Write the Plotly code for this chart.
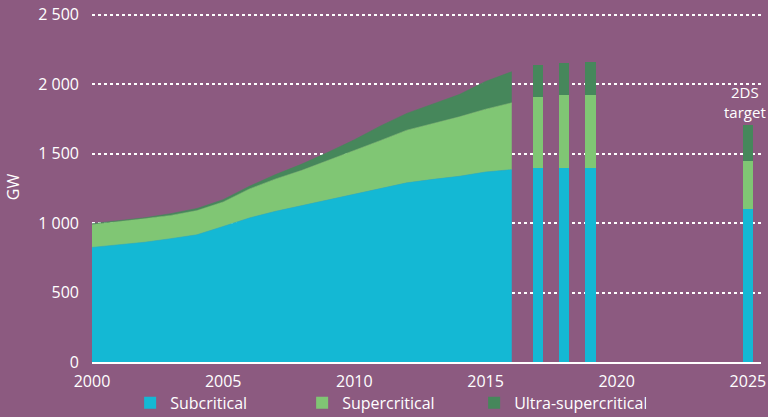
import plotly.graph_objects as go

# --- data ---
area_years = list(range(2000, 2017))
area_sub = [825, 843, 862, 888, 916, 976, 1037, 1085, 1125, 1168, 1210, 1250, 1290, 1315, 1337, 1368, 1385]
area_super = [165, 169, 168, 167, 174, 176, 209, 233, 255, 282, 310, 345, 379, 403, 428, 452, 481]
area_ultra = [6, 6, 8, 13, 15, 17, 19, 32, 45, 60, 80, 105, 121, 140, 161, 200, 224]

bar_years = [2017, 2018, 2019, 2025]
bar_sub = [1400, 1400, 1400, 1100]
bar_super = [507, 519, 519, 350]
bar_ultra = [231, 233, 243, 258]

series_names = ["Subcritical", "Supercritical", "Ultra-supercritical"]
colors = ["#14B8D4", "#80C674", "#46875B"]
bg = "#8C5A80"
font_family = "Open Sans, Lato, sans-serif"

fig = go.Figure()

for name, vals, col in zip(series_names, [area_sub, area_super, area_ultra], colors):
    fig.add_trace(go.Scatter(
        x=area_years, y=vals, name=name, stackgroup="one", mode="lines",
        line=dict(width=0.6, color=col), fillcolor=col, showlegend=False,
        legendgroup=name, hoverinfo="skip"))

for name, vals, col in zip(series_names, [bar_sub, bar_super, bar_ultra], colors):
    fig.add_trace(go.Bar(
        x=bar_years, y=vals, name=name, marker=dict(color=col, line=dict(width=0)),
        width=0.4, legendgroup=name))

fig.add_annotation(x=2025, y=1715, text="2DS<br>target", showarrow=False,
                   xanchor="center", yanchor="bottom", xshift=-3,
                   font=dict(color="white", size=15, family=font_family))

fig.update_layout(
    width=768, height=417,
    paper_bgcolor=bg, plot_bgcolor=bg,
    barmode="stack",
    separators=". ",
    margin=dict(l=92, r=7, t=12, b=55, autoexpand=False),
    font=dict(family=font_family, color="white", size=16),
    showlegend=True,
    legend=dict(orientation="h", x=0.057, xanchor="left", y=-0.068, yanchor="top",
                traceorder="normal", font=dict(size=16, color="white"),
                bgcolor="rgba(0,0,0,0)", entrywidth=127, entrywidthmode="pixels"),
    xaxis=dict(range=[2000, 2025.5], tickvals=[2000, 2005, 2010, 2015, 2020, 2025],
               showgrid=False, zeroline=False, showline=True, linecolor="white",
               linewidth=2, ticks="", ticklabelstandoff=4, automargin=False,
               tickfont=dict(size=16, color="white")),
    yaxis=dict(range=[0, 2520], tickvals=[0, 500, 1000, 1500, 2000, 2500],
               showgrid=True, gridcolor="white",
               griddash="dot", gridwidth=1.5, zeroline=False, showline=False,
               separatethousands=True, ticks="", ticklabelstandoff=12, automargin=False,
               tickfont=dict(size=16, color="white"),
               title=dict(text="GW", font=dict(size=16, color="white"), standoff=14)),
)

fig.write_html("out.html", config={"displayModeBar": False},
               post_script="document.body.style.margin='0';document.body.style.overflow='hidden';")
